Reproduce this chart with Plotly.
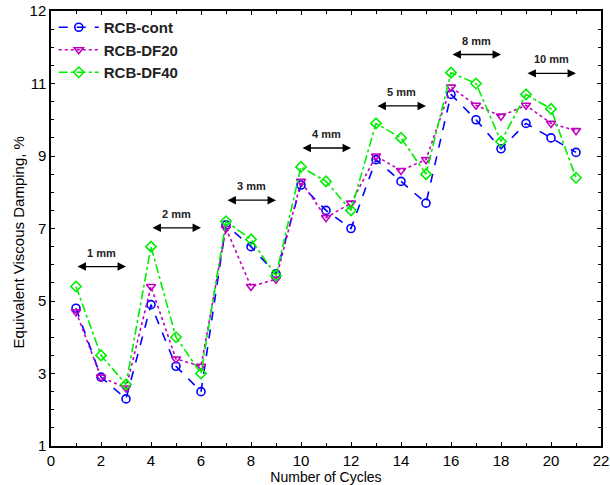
import plotly.graph_objects as go

cycles = list(range(1, 22))
rcb_cont = [4.8, 2.9, 2.3, 4.9, 3.2, 2.5, 7.1, 6.5, 5.75, 8.2, 7.5, 7.0,
            8.9, 8.3, 7.7, 10.7, 10.0, 9.2, 9.9, 9.5, 9.1]
rcb_df20 = [4.7, 2.9, 2.6, 5.4, 3.4, 3.2, 7.0, 5.4, 5.6, 8.3, 7.3, 7.7,
            9.0, 8.6, 8.9, 10.9, 10.4, 10.1, 10.4, 9.9, 9.7]
rcb_df40 = [5.4, 3.5, 2.7, 6.5, 4.0, 3.0, 7.2, 6.7, 5.7, 8.7, 8.3, 7.5,
            9.9, 9.5, 8.5, 11.3, 11.0, 9.4, 10.7, 10.3, 8.4]

# Displacement stages: (label, start cycle, end cycle, arrow level)
stage_labels = ["1 mm", "2 mm", "3 mm", "4 mm", "5 mm", "8 mm", "10 mm"]
stage_start = [1, 4, 7, 10, 13, 16, 19]
stage_end = [3, 6, 9, 12, 15, 18, 21]
stage_level = [5.95, 7.02, 7.78, 9.22, 10.38, 11.8, 11.28]

y_tickvals = [1, 3, 5, 7, 9, 11, 13]
y_ticktext = ["1", "3", "5", "7", "9", "11", "12"]
x_tickvals = [0, 2, 4, 6, 8, 10, 12, 14, 16, 18, 20, 22]

series = [
    ("RCB-cont", rcb_cont, "#0000FF", "dash", "circle-open"),
    ("RCB-DF20", rcb_df20, "#C000C0", "dot", "triangle-down-open"),
    ("RCB-DF40", rcb_df40, "#00EE00", "dashdot", "diamond-open"),
]

fig = go.Figure()
for name, vals, color, dash, symbol in series:
    fig.add_trace(go.Scatter(
        x=cycles, y=vals, name=name, mode="lines+markers",
        line=dict(color=color, dash=dash, width=1.6),
        marker=dict(symbol=symbol, size=8, color=color,
                    line=dict(color=color, width=1.6)),
    ))

for lab, x0, x1, lev in zip(stage_labels, stage_start, stage_end, stage_level):
    fig.add_annotation(
        x=x1, y=lev, ax=x0, ay=lev, xref="x", yref="y", axref="x", ayref="y",
        text="", showarrow=True, arrowhead=2, startarrowhead=2,
        arrowside="end+start", arrowsize=1.3, arrowwidth=1.3,
        arrowcolor="#000000", startstandoff=0, standoff=0,
    )
    fig.add_annotation(
        x=(x0 + x1) / 2, y=lev, xref="x", yref="y", text="<b>%s</b>" % lab,
        showarrow=False, yshift=14,
        font=dict(family="Liberation Sans, Arial", size=11, color="#222222"),
    )

# Y-axis title, placed as rotated text beside the axis
fig.add_annotation(
    x=-0.06, y=0.468, xref="paper", yref="paper",
    text="Equivalent Viscous Damping, %", textangle=-90, showarrow=False,
    xanchor="center", yanchor="middle",
    font=dict(family="Liberation Sans, Arial", size=15, color="#000000"),
)

axis_common = dict(
    showline=True, linecolor="#000000", linewidth=1.5, mirror="ticks",
    ticks="inside", ticklen=4, tickcolor="#000000", tickwidth=1,
    showgrid=False, zeroline=False, automargin=False,
    tickfont=dict(family="Liberation Sans, Arial", size=15, color="#000000"),
)

fig.update_xaxes(
    range=[0, 22], tickvals=x_tickvals,
    minor=dict(dtick=1, ticks="inside", ticklen=3, tickcolor="#000000", showgrid=False),
    title=dict(text="Number of Cycles", standoff=2,
               font=dict(family="Liberation Sans, Arial", size=14, color="#000000")),
    **axis_common,
)
fig.update_yaxes(
    range=[1, 13], tickvals=y_tickvals, ticktext=y_ticktext,
    minor=dict(dtick=0.5, ticks="inside", ticklen=3, tickcolor="#000000", showgrid=False),
    **axis_common,
)

fig.update_layout(
    width=610, height=485,
    margin=dict(l=51, r=9, t=11, b=39),
    paper_bgcolor="#FFFFFF", plot_bgcolor="#FFFFFF",
    legend=dict(
        x=0.005, y=1.0, xanchor="left", yanchor="top",
        bgcolor="rgba(0,0,0,0)", borderwidth=0, tracegroupgap=0,
        font=dict(family="Liberation Sans, Arial", size=15, color="#222222", weight="bold"),
        itemwidth=40,
    ),
)

fig.write_html("out.html")
